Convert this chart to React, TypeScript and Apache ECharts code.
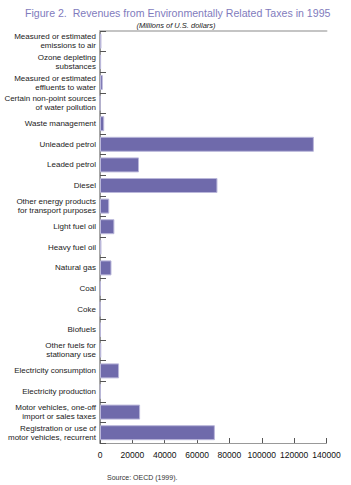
import React, { useEffect, useRef } from "react";
import * as echarts from "echarts";

const categories: string[] = [
  "Measured or estimated\nemissions to air",
  "Ozone depleting\nsubstances",
  "Measured or estimated\neffluents to water",
  "Certain non-point sources\nof water pollution",
  "Waste management",
  "Unleaded petrol",
  "Leaded petrol",
  "Diesel",
  "Other energy products\nfor transport purposes",
  "Light fuel oil",
  "Heavy fuel oil",
  "Natural gas",
  "Coal",
  "Coke",
  "Biofuels",
  "Other fuels for\nstationary use",
  "Electricity consumption",
  "Electricity production",
  "Motor vehicles, one-off\nimport or sales taxes",
  "Registration or use of\nmotor vehicles, recurrent",
];

const revenues: number[] = [
  900, 700, 1700, 100, 2600, 132200, 24100, 72600, 5700, 8900, 900, 7100, 500,
  200, 600, 800, 11800, 400, 24800, 71000,
];

const xTicks: number[] = [0, 20000, 40000, 60000, 80000, 100000, 120000, 140000];

const titleText = "Figure 2.  Revenues from Environmentally Related Taxes in 1995";
const subtitleText = "(Millions of U.S. dollars)";
const sourceText = "Source: OECD (1999).";

export default function App() {
  const ref = useRef<HTMLDivElement>(null);
  useEffect(() => {
    if (!ref.current) return;
    const chart = echarts.init(ref.current, null, { renderer: "svg" });
    const font = "'Liberation Sans', Arial, Helvetica, sans-serif";
    chart.setOption({
      animation: false,
      backgroundColor: "#ffffff",
      textStyle: { fontFamily: font },
      title: [
        {
          text: titleText,
          left: 20,
          top: 2,
          textStyle: { fontFamily: font, fontSize: 10.6, fontWeight: "normal", color: "#7f7bbd" },
        },
        {
          text: subtitleText,
          left: 171,
          textAlign: "center",
          top: 16,
          textStyle: { fontFamily: font, fontSize: 7.5, fontStyle: "italic", fontWeight: "normal", color: "#222" },
        },
        {
          text: sourceText,
          left: 102,
          top: 469,
          textStyle: { fontFamily: font, fontSize: 7, fontWeight: "normal", color: "#333" },
        },
      ],
      grid: { left: 100, right: 24.5, top: 31, bottom: 42, containLabel: false },
      xAxis: [
        {
          type: "value",
          min: 0,
          max: 140000,
          interval: 20000,
          position: "bottom",
          axisLine: { show: true, lineStyle: { color: "#999", width: 1 } },
          axisTick: { show: true, inside: true, length: 5, lineStyle: { color: "#555" } },
          axisLabel: {
            color: "#111",
            fontSize: 8.5,
            margin: 7,
            formatter: (v: number) => (xTicks.includes(v) ? String(v) : ""),
          },
          splitLine: { show: false },
        },
        {
          type: "value",
          min: 0,
          max: 140000,
          position: "top",
          axisLine: { show: true, lineStyle: { color: "#c4c4c4", width: 2 } },
          axisTick: { show: false },
          axisLabel: { show: false },
          splitLine: { show: false },
        },
      ],
      yAxis: [
        {
          type: "category",
          data: categories,
          inverse: true,
          position: "left",
          axisLine: { show: true, lineStyle: { color: "#aaa", width: 1 } },
          axisTick: { show: true, inside: true, length: 6, lineStyle: { color: "#555" } },
          axisLabel: {
            color: "#222",
            fontSize: 8,
            lineHeight: 9,
            margin: 4,
            align: "right",
          },
        },
        {
          type: "category",
          data: categories,
          inverse: true,
          position: "right",
          axisLine: { show: true, lineStyle: { color: "#888", width: 1.5 } },
          axisTick: { show: false },
          axisLabel: { show: false },
        },
      ],
      series: [
        {
          type: "bar",
          data: revenues,
          xAxisIndex: 0,
          yAxisIndex: 0,
          barWidth: 15,
          itemStyle: { color: "#6f6aab", borderColor: "#bab7da", borderWidth: 1 },
        },
      ],
    });
    return () => chart.dispose();
  }, []);
  return <div ref={ref} style={{ width: 351, height: 485, position: "absolute", left: 0, top: 0 }} />;
}
